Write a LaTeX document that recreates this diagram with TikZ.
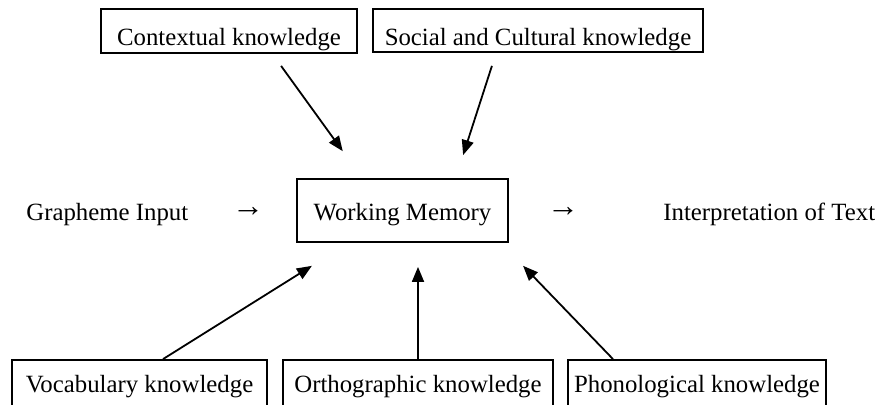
\documentclass[tikz,border=0pt]{standalone}
\usepackage{fontspec}
\setmainfont{Liberation Serif}
\usetikzlibrary{arrows.meta}
\begin{document}
\begin{tikzpicture}[x=0.5pt,y=-0.5pt,
  every node/.style={font=\fontsize{12.4pt}{15pt}\selectfont},
  box/.style={draw, line width=0.9pt, inner sep=0pt, anchor=base},
  plain/.style={inner sep=0pt, anchor=base west},
  txtarrow/.style={inner sep=0pt, anchor=center, font=\fontsize{16pt}{18pt}\selectfont},
  arr/.style={-{Triangle[length=7.5pt,width=6pt]}, line width=0.9pt}]
\useasboundingbox (0,0) rectangle (877,404);
% top boxes
\node[box, text height=18pt, text depth=4pt, minimum width=128pt] (ctx) at (229,45) {Contextual knowledge};
\node[box, text height=18pt, text depth=3.5pt, minimum width=165pt] (soc) at (538,45) {Social and Cultural knowledge};
% middle row
\node[plain] (graph) at (26,220) {Grapheme Input};
\node[txtarrow] (ar1) at (248,212) {→};
\node[box, text height=20.5pt, text depth=11pt, minimum width=105.5pt] (wm) at (402.5,220) {Working Memory};
\node[txtarrow] (ar2) at (563,212) {→};
\node[plain] (interp) at (663,220) {Interpretation of Text};
% bottom boxes
\node[box, text height=16pt, text depth=12pt, minimum width=127.5pt] (voc) at (139.5,392) {Vocabulary knowledge};
\node[box, text height=16pt, text depth=12pt, minimum width=135pt] (orth) at (418,392) {Orthographic knowledge};
\node[box, text height=16pt, text depth=12pt, minimum width=129pt] (phon) at (697,392) {Phonological knowledge};
% connectors
\draw[arr, shorten <=7.4pt, shorten >=16.6pt] ([xshift=21.7pt]ctx.south) -- ([xshift=-20.15pt]wm.north);
\draw[arr, shorten <=6.8pt, shorten >=12.1pt] ([xshift=-20.95pt]soc.south) -- ([xshift=26.6pt]wm.north);
\draw[arr, shorten >=21.6pt] ([xshift=11.75pt]voc.north) -- ([xshift=-27pt]wm.south);
\draw[arr, shorten >=12pt] (orth.north) -- (orth.north |- wm.south);
\draw[arr, shorten >=15.9pt] ([xshift=-42pt]phon.north) -- ([xshift=49.25pt]wm.south);
\end{tikzpicture}
\end{document}
